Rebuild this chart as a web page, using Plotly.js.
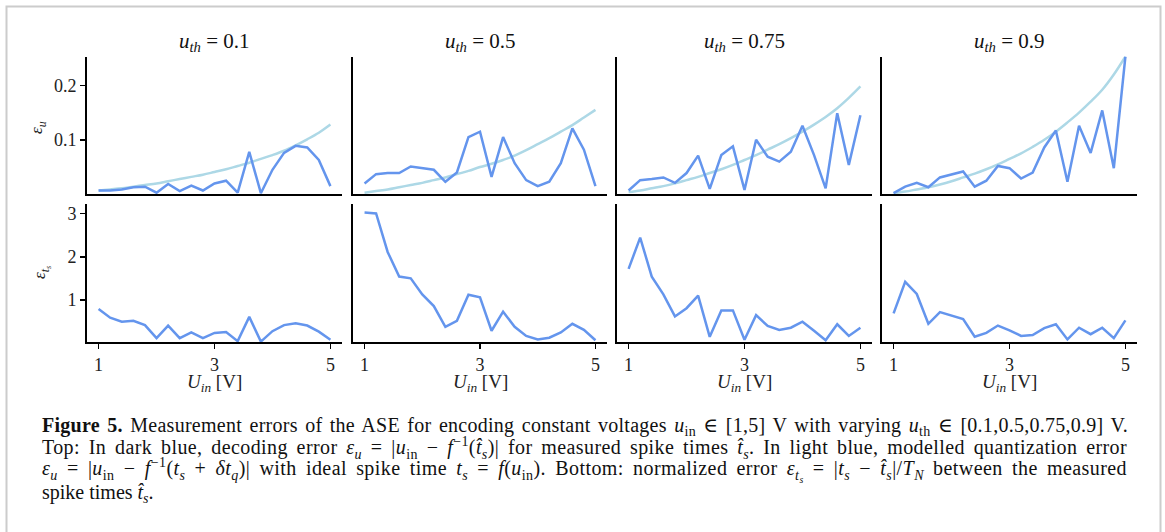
<!DOCTYPE html>
<html>
<head>
<meta charset="utf-8">
<script src="https://cdn.plot.ly/plotly-3.0.1.min.js"></script>
<style>
html, body { margin:0; padding:0; background:#ffffff; }
#chart { width:1165px; height:532px; }
</style>
</head>
<body>
<div id="chart"></div>
<script>
// ---- data ----
const uIn = [1.0,1.2,1.4,1.6,1.8,2.0,2.2,2.4,2.6,2.8,3.0,3.2,3.4,3.6,3.8,4.0,4.2,4.4,4.6,4.8,5.0];
const thresholds = ["0.1","0.5","0.75","0.9"];

// decoding error eps_u (dark blue), measured
const epsU_01  = [0.007,0.007,0.009,0.013,0.014,0.003,0.019,0.006,0.016,0.007,0.020,0.025,0.003,0.078,0.002,0.045,0.076,0.089,0.086,0.063,0.015];
const epsU_05  = [0.020,0.037,0.039,0.039,0.051,0.048,0.045,0.023,0.040,0.105,0.115,0.032,0.105,0.057,0.026,0.015,0.023,0.057,0.121,0.082,0.015];
const epsU_075 = [0.007,0.026,0.028,0.031,0.021,0.039,0.071,0.010,0.072,0.088,0.008,0.100,0.069,0.060,0.078,0.126,0.072,0.011,0.149,0.054,0.145];
const epsU_09  = [0.002,0.014,0.021,0.013,0.031,0.037,0.042,0.014,0.025,0.052,0.048,0.029,0.040,0.086,0.117,0.023,0.126,0.076,0.154,0.048,0.253];

// modelled quantization error (light blue)
const model_01  = [0.007,0.009,0.011,0.014,0.017,0.020,0.024,0.028,0.032,0.036,0.041,0.046,0.052,0.058,0.065,0.072,0.080,0.090,0.101,0.113,0.128];
const model_05  = [0.003,0.006,0.009,0.013,0.017,0.021,0.026,0.031,0.037,0.043,0.050,0.056,0.063,0.071,0.081,0.092,0.103,0.115,0.127,0.141,0.155];
const model_075 = [0.004,0.007,0.011,0.015,0.020,0.026,0.032,0.039,0.046,0.054,0.063,0.072,0.082,0.092,0.103,0.115,0.128,0.142,0.158,0.177,0.198];
const model_09  = [0.002,0.005,0.009,0.013,0.018,0.024,0.031,0.038,0.046,0.055,0.065,0.075,0.087,0.100,0.115,0.132,0.150,0.170,0.192,0.220,0.253];

// normalized spike time error eps_ts
const epsT_01  = [0.79,0.59,0.50,0.52,0.42,0.12,0.41,0.12,0.25,0.12,0.24,0.26,0.05,0.61,0.04,0.28,0.42,0.46,0.41,0.27,0.08];
const epsT_05  = [3.02,3.00,2.11,1.54,1.50,1.13,0.86,0.38,0.52,1.12,1.06,0.29,0.73,0.38,0.17,0.09,0.13,0.25,0.45,0.31,0.07];
const epsT_075 = [1.72,2.44,1.54,1.13,0.62,0.81,1.10,0.15,0.76,0.76,0.08,0.65,0.40,0.31,0.36,0.50,0.29,0.07,0.44,0.17,0.36];
const epsT_09  = [0.69,1.42,1.14,0.45,0.72,0.64,0.56,0.15,0.24,0.41,0.30,0.17,0.19,0.35,0.44,0.09,0.36,0.21,0.36,0.12,0.53];

const xTicks = [1,3,5];
const yTicksTop = [0.1,0.2];
const yTicksBot = [1,2,3];

// ---- styling ----
const W = 1165, H = 532;
const DARK = '#6495ED', LIGHT = '#ADD8E6';
const SERIF = 'Liberation Serif, DejaVu Serif, serif';
const colPx = [[87,342],[353,607],[617,872],[882,1137]];
const topPx = [56.5,194.3], botPx = [204.3,342];
const dom = (a,b)=>[a/W,b/W];
const ydom = (t,b)=>[(H-b)/H,(H-t)/H];

const epsU = [epsU_01,epsU_05,epsU_075,epsU_09];
const model = [model_01,model_05,model_075,model_09];
const epsT = [epsT_01,epsT_05,epsT_075,epsT_09];

const traces = [];
const layout = {
  width: W, height: H,
  margin: {l:0,r:0,t:0,b:0},
  paper_bgcolor: '#ffffff', plot_bgcolor: 'rgba(0,0,0,0)',
  showlegend: false,
  font: {family: SERIF, color: '#111111', size: 15},
  annotations: [], shapes: []
};

for (let i = 0; i < 4; i++) {
  const nT = i + 1, nB = i + 5;
  const xT = 'x' + (nT === 1 ? '' : nT), yT = 'y' + (nT === 1 ? '' : nT);
  const xB = 'x' + nB, yB = 'y' + nB;
  traces.push({x: uIn, y: model[i], xaxis: xT, yaxis: yT, mode: 'lines', line: {color: LIGHT, width: 2.5, shape: 'spline'}, hoverinfo: 'skip'});
  traces.push({x: uIn, y: epsU[i], xaxis: xT, yaxis: yT, mode: 'lines', line: {color: DARK, width: 2.5}, hoverinfo: 'skip'});
  traces.push({x: uIn, y: epsT[i], xaxis: xB, yaxis: yB, mode: 'lines', line: {color: DARK, width: 2.5}, hoverinfo: 'skip'});

  const axBase = {showgrid: false, zeroline: false, showline: true, linecolor: '#000', linewidth: 2,
                  tickcolor: '#000', tickwidth: 1.6, ticklen: 5, tickfont: {family: SERIF, size: 18, color: '#222'}, fixedrange: true};
  const kT = nT === 1 ? '' : nT;
  layout['xaxis' + kT] = Object.assign({}, axBase, {domain: dom(...colPx[i]), anchor: yT, range: [0.8, 5.2],
      ticks: '', showticklabels: false});
  layout['yaxis' + kT] = Object.assign({}, axBase, {domain: ydom(...topPx), anchor: xT, range: [0, 0.253],
      tickvals: yTicksTop, ticktext: yTicksTop.map(String), ticks: i === 0 ? 'outside' : '', showticklabels: i === 0});
  layout['xaxis' + nB] = Object.assign({}, axBase, {domain: dom(...colPx[i]), anchor: yB, range: [0.8, 5.2],
      tickvals: xTicks, ticktext: xTicks.map(String), ticks: 'outside'});
  layout['yaxis' + nB] = Object.assign({}, axBase, {domain: ydom(...botPx), anchor: xB, range: [0.03, 3.21],
      tickvals: yTicksBot, ticktext: yTicksBot.map(String), ticks: i === 0 ? 'outside' : '', showticklabels: i === 0});

  const cx = (colPx[i][0] + colPx[i][1]) / 2 / W;
  layout.annotations.push({xref: 'paper', yref: 'paper', x: cx, y: (H - 42) / H, xanchor: 'center', yanchor: 'middle',
    showarrow: false, text: '<i>u</i><sub><i>th</i></sub> = ' + thresholds[i], font: {family: SERIF, size: 21, color: '#111'}});
  layout.annotations.push({xref: 'paper', yref: 'paper', x: cx, y: (H - 383) / H, xanchor: 'center', yanchor: 'middle',
    showarrow: false, text: '<i>U</i><sub><i>in</i></sub> [V]', font: {family: SERIF, size: 19, color: '#222'}});
}

layout.annotations.push({xref: 'paper', yref: 'paper', x: 38 / W, y: (H - 128) / H, textangle: -90, showarrow: false,
  xanchor: 'center', yanchor: 'middle', text: '<i>ε</i><sub><i>u</i></sub>', font: {family: SERIF, size: 17, color: '#222'}});
layout.annotations.push({xref: 'paper', yref: 'paper', x: 42 / W, y: (H - 273) / H, textangle: -90, showarrow: false,
  xanchor: 'center', yanchor: 'middle', text: '<i>ε</i><sub><i>t</i><sub><i>s</i></sub></sub>', font: {family: SERIF, size: 17, color: '#222'}});

const captionLines = [
  '<b>Figure 5.</b> Measurement errors of the ASE for encoding constant voltages <i>u</i><sub>in</sub> ∈ [1,5] V with varying <i>u</i><sub>th</sub> ∈ [0.1,0.5,0.75,0.9] V.',
  'Top: In dark blue, decoding error <i>ε<sub>u</sub></i> = |<i>u</i><sub>in</sub> − <i>f</i><sup>−1</sup>(<i>t̂<sub>s</sub></i>)| for measured spike times <i>t̂<sub>s</sub></i>. In light blue, modelled quantization error',
  '<i>ε<sub>u</sub></i> = |<i>u</i><sub>in</sub> − <i>f</i><sup>−1</sup>(<i>t<sub>s</sub></i> + <i>δt<sub>q</sub></i>)| with ideal spike time <i>t<sub>s</sub></i> = <i>f</i>(<i>u</i><sub>in</sub>). Bottom: normalized error <i>ε<sub>t<sub>s</sub></sub></i> = |<i>t<sub>s</sub></i> − <i>t̂<sub>s</sub></i>|/<i>T<sub>N</sub></i> between the measured',
  'spike times <i>t̂<sub>s</sub></i>.'
];
const capY = [426, 448, 470, 493];
const capRight = [1128, 1127, 1127, null];  // justified right edges
const capFirstIdx = layout.annotations.length;
captionLines.forEach((t, k) => {
  layout.annotations.push({xref: 'paper', yref: 'paper', x: 40 / W, y: (H - capY[k]) / H, xanchor: 'left', yanchor: 'middle',
    showarrow: false, align: 'left', text: t, font: {family: SERIF, size: 20, color: '#111'}});
});

layout.shapes.push({type: 'rect', xref: 'paper', yref: 'paper', x0: 6.5 / W, x1: 1160.5 / W, y0: -0.1, y1: (H - 6.5) / H,
  line: {color: '#cccccc', width: 2}, fillcolor: 'rgba(0,0,0,0)', layer: 'below'});

Plotly.newPlot('chart', traces, layout, {staticPlot: true, displayModeBar: false}).then(gd => {
  // justify the caption lines (like the typeset original): share extra width between letters and words
  const groups = gd.querySelectorAll('.annotation');
  captionLines.forEach((t, k) => {
    if (capRight[k] === null) return;
    const g = Array.from(groups).find(el => +el.getAttribute('data-index') === capFirstIdx + k);
    if (!g) return;
    const txt = g.querySelector('text.annotation-text');
    if (!txt) return;
    const content = txt.textContent;
    const nSpaces = (content.match(/ /g) || []).length;
    const nChars = content.length;
    if (!nSpaces) return;
    const diff0 = capRight[k] - txt.getBoundingClientRect().right;
    const ls = Math.max(0, 0.45 * diff0 / nChars);
    txt.style.letterSpacing = ls + 'px';
    for (let iter = 0; iter < 3; iter++) {
      const diff = capRight[k] - txt.getBoundingClientRect().right;
      const cur = parseFloat(txt.style.wordSpacing) || 0;
      txt.style.wordSpacing = (cur + diff / nSpaces) + 'px';
    }
  });
});
</script>
</body>
</html>
